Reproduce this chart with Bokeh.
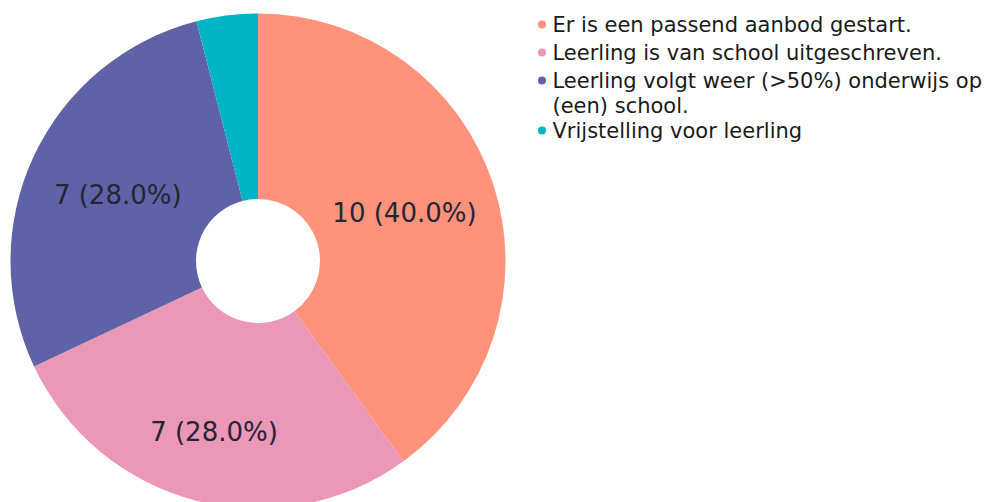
import math
from bokeh.plotting import figure
from bokeh.models import Range1d, ColumnDataSource
from bokeh.core.properties import value
from bokeh.embed import file_html
from bokeh.resources import INLINE

categories = [
    "Er is een passend aanbod gestart.",
    "Leerling is van school uitgeschreven.",
    "Leerling volgt weer (>50%) onderwijs op\n(een) school.",
    "Vrijstelling voor leerling",
]
counts = [10, 7, 7, 1]
colors = ["#FE927B", "#EA97B8", "#6062A8", "#00B3C6"]

W, H = 989, 502
p = figure(width=W, height=H, output_backend="svg", toolbar_location=None,
           x_range=Range1d(0, W), y_range=Range1d(0, H), min_border=0,
           outline_line_color=None)
p.axis.visible = False
p.grid.visible = False

cx, cy = 257.5, H - 260.5
r_out, r_in = 247.5, 62

total = sum(counts)
starts, ends, mids = [], [], []
a = math.pi / 2
for c in counts:
    span = 2 * math.pi * c / total
    starts.append(a - span)
    ends.append(a)
    mids.append(a - span / 2)
    a -= span

src = ColumnDataSource(dict(start=starts, end=ends, color=colors))
p.annular_wedge(x=cx, y=cy, inner_radius=r_in, outer_radius=r_out,
                start_angle="start", end_angle="end", color="color",
                line_color=None, source=src)

# slice labels (skip the small slice)
label_r = [154, 177, 155]
lx, ly, lt = [], [], []
for i, c in enumerate(counts):
    if c / total < 0.05:
        continue
    r = label_r[i]
    lx.append(cx + r * math.cos(mids[i]))
    ly.append(cy + r * math.sin(mids[i]))
    lt.append(f"{c} ({100 * c / total:.1f}%)")
p.text(x=lx, y=ly, text=lt, text_align="center", text_baseline="middle",
       text_font=value("DejaVu Sans"), text_font_size="26px", text_color="#242633")

# legend
dot_x, txt_x = 541.5, 552
y0 = H - 24
gy, ty = [], []
y = y0
for cat in categories:
    gy.append(y)
    ty.append(y)
    y -= 28 + 22 * cat.count("\n")
p.scatter(x=[dot_x] * len(categories), y=gy, size=8, color=colors, line_color=None)
p.text(x=[txt_x] * len(categories), y=[t + 12 for t in ty], text=categories,
       text_align="left", text_baseline="top", text_line_height=1.05,
       text_font=value("DejaVu Sans"), text_font_size="21px", text_color="#1a1a1a")

open("out.html", "w").write(file_html(p, INLINE))
